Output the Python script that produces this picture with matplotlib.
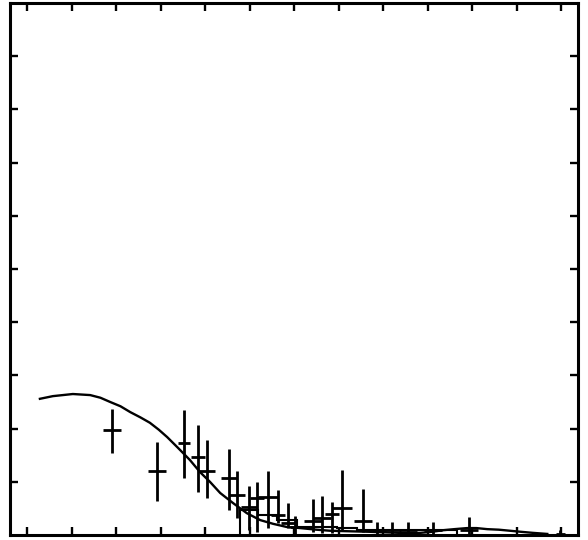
import numpy as np
import matplotlib
matplotlib.use("Agg")
import matplotlib.pyplot as plt

# smooth model curve
curve_x = [1.29, 1.58, 2.03, 2.42, 2.65, 2.87, 3.10, 3.32, 3.55, 3.76, 3.96, 4.15,
           4.39, 4.66, 4.89, 5.11, 5.34, 5.63, 5.94, 6.24, 6.53, 6.84, 7.14, 7.50,
           7.81, 8.25, 8.71, 9.38, 9.83, 10.10, 10.35, 10.60, 10.89, 11.10, 11.34,
           11.60, 11.85, 12.10, 12.37, 12.69]
curve_y = [2.56, 2.61, 2.65, 2.63, 2.58, 2.50, 2.42, 2.31, 2.21, 2.11, 1.98, 1.84,
           1.64, 1.41, 1.18, 1.00, 0.79, 0.60, 0.41, 0.28, 0.21, 0.15, 0.13, 0.10,
           0.08, 0.07, 0.06, 0.04, 0.04, 0.06, 0.09, 0.11, 0.13, 0.13, 0.11,
           0.10, 0.08, 0.06, 0.04, 0.02]

# measured points (centre, half bin width, lower / upper error)
pts_x = [2.91, 3.92, 4.53, 4.84, 5.04, 5.54, 5.72, 5.99, 6.17, 6.42, 6.64, 6.87,
         7.02, 7.43, 7.63, 7.85, 8.08, 8.55, 8.87, 9.20, 9.56, 10.12, 10.93, 12.98]
pts_y = [1.97, 1.20, 1.73, 1.47, 1.20, 1.07, 0.75, 0.53, 0.70, 0.71, 0.38, 0.23,
         0.15, 0.26, 0.32, 0.40, 0.51, 0.26, 0.09, 0.09, 0.09, 0.09, 0.09, 0.02]
pts_xw = [0.21, 0.20, 0.13, 0.15, 0.18, 0.17, 0.18, 0.18, 0.15, 0.22, 0.16, 0.17,
          0.12, 0.20, 0.20, 0.15, 0.22, 0.20, 0.20, 0.20, 0.20, 0.20, 0.20, 0.10]
pts_lo = [0.43, 0.56, 0.66, 0.66, 0.50, 0.60, 0.43, 0.44, 0.64, 0.58, 0.15, 0.10,
          0.15, 0.20, 0.28, 0.36, 0.42, 0.20, 0.09, 0.09, 0.09, 0.09, 0.09, 0.02]
pts_hi = [0.40, 0.55, 0.62, 0.60, 0.59, 0.55, 0.45, 0.39, 0.30, 0.49, 0.47, 0.37,
          0.20, 0.42, 0.41, 0.22, 0.71, 0.60, 0.15, 0.15, 0.15, 0.15, 0.24, 0.08]

# lower staircase histogram
hist_edges = [5.79, 6.19, 6.62, 7.07, 7.52, 7.97, 8.42, 8.87, 9.31, 9.76, 10.21, 10.66]
hist_vals = [0.47, 0.38, 0.28, 0.15, 0.15, 0.13, 0.09, 0.09, 0.09, 0.09, 0.09]

fig = plt.figure(figsize=(5.88, 5.4), dpi=100)
ax = fig.add_axes([10 / 588, 5 / 540, 568 / 588, 532 / 540])

ax.plot(curve_x, curve_y, color="black", lw=1.7)
ax.errorbar(pts_x, pts_y, xerr=pts_xw, yerr=[pts_lo, pts_hi], fmt="none",
            ecolor="black", elinewidth=2.0, capsize=0)
ax.stairs(hist_vals, hist_edges, color="black", lw=1.5)

ax.set_xlim(0.618, 13.38)
ax.set_ylim(0, 10)
ax.set_xticks(np.arange(1, 14))
ax.set_yticks(np.arange(1, 10))
ax.tick_params(direction="in", length=6, width=1.7, top=True, right=True,
               labelbottom=False, labelleft=False)
for sp in ax.spines.values():
    sp.set_linewidth(2.2)

fig.savefig("out.png", dpi=100)
